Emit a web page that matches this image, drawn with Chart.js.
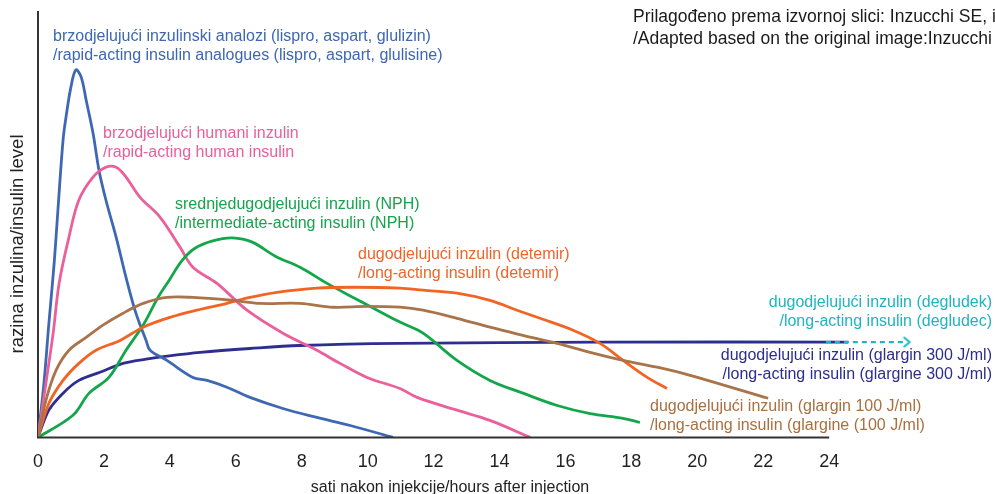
<!DOCTYPE html>
<html>
<head>
<meta charset="utf-8">
<script src="https://cdn.jsdelivr.net/npm/chart.js@4.4.1/dist/chart.umd.min.js"></script>
<style>
  html, body { margin: 0; padding: 0; background: #fff; }
  #wrap { width: 995px; height: 494px; position: relative; }
</style>
</head>
<body>
<div id="wrap"><canvas id="insulinChart"></canvas></div>
<script>
// x ticks (hours)
const hourTicks = [0, 2, 4, 6, 8, 10, 12, 14, 16, 18, 20, 22, 24];

// rapid-acting analogues
const analogHours = [0, 0.18, 0.33, 0.49, 0.61, 0.76, 0.85, 1.0, 1.15, 1.31, 1.46, 1.67, 1.85, 2.06, 2.37, 2.67, 2.97, 3.28, 3.40, 3.91, 4.70, 5.13, 5.73, 6.43, 7.43, 8.46, 9.47, 10.77];
const analogLevel = [0, 12.7, 26.8, 40.9, 54.1, 69.9, 75.3, 82.4, 86.4, 84.7, 79.3, 71.5, 62.8, 55.8, 47.1, 37.6, 29.2, 22.8, 20.5, 18.1, 14.1, 13.4, 11.8, 9.4, 6.8, 4.7, 2.8, 0];

// rapid-acting human insulin
const humanHours = [0, 0.24, 0.46, 0.64, 0.94, 1.24, 1.67, 2.06, 2.37, 2.67, 3.09, 3.70, 4.31, 4.70, 5.43, 6.34, 7.43, 8.46, 9.16, 9.98, 10.98, 11.50, 12.71, 13.71, 14.93];
const humanLevel = [0, 12.7, 24.5, 36.2, 47.1, 55.8, 61.2, 63.5, 63.5, 61.2, 56.5, 51.8, 44.7, 40.0, 36.2, 29.9, 24.5, 20.5, 17.4, 14.1, 11.5, 9.4, 6.4, 4.0, 0];

// NPH
const nphHours = [0, 1.06, 1.55, 2.15, 2.67, 3.19, 3.64, 4.0, 4.35, 4.75, 5.30, 5.90, 6.50, 7.20, 7.95, 8.77, 9.56, 10.29, 10.98, 11.68, 12.71, 13.71, 14.71, 15.75, 16.75, 17.75, 18.26];
const nphLevel = [0, 5.2, 10.4, 14.1, 20.5, 26.4, 32.9, 37.2, 41.4, 44.4, 46.2, 46.9, 45.9, 42.6, 40.0, 36.2, 32.9, 29.9, 27.1, 24.5, 18.1, 13.4, 10.4, 7.5, 5.6, 4.5, 3.5];

// detemir
const detemirHours = [0, 0.33, 0.76, 1.24, 1.76, 2.49, 3.19, 4.0, 4.82, 5.73, 6.43, 7.25, 8.46, 9.56, 10.98, 11.68, 12.71, 13.71, 14.53, 15.23, 16.23, 17.05, 17.75, 18.48, 19.08];
const detemirLevel = [0, 8.0, 13.4, 17.4, 20.5, 22.8, 25.9, 28.2, 29.9, 31.5, 32.9, 34.1, 35.1, 35.3, 35.1, 34.6, 33.9, 32.2, 29.9, 28.0, 25.2, 22.1, 18.1, 14.1, 11.5];

// glargine 100 J/ml
const g100Hours = [0, 0.24, 0.55, 0.94, 1.46, 1.97, 2.58, 3.19, 3.91, 4.70, 5.92, 6.74, 7.95, 8.95, 9.98, 10.98, 11.68, 12.71, 13.71, 14.71, 15.75, 16.75, 17.75, 18.78, 19.78, 22.15];
const g100Level = [0, 8.7, 15.8, 20.5, 23.5, 26.4, 29.2, 31.5, 32.9, 32.9, 32.2, 31.5, 31.5, 30.6, 30.8, 30.6, 29.9, 28.0, 25.9, 24.0, 22.1, 20.0, 18.1, 16.5, 14.6, 9.2];

// glargine 300 J/ml
const g300Hours = [0, 0.33, 0.76, 1.24, 1.88, 2.58, 3.28, 3.91, 4.92, 6.43, 7.95, 10.98, 17.05, 24.58];
const g300Level = [0, 6.4, 10.4, 13.4, 15.3, 17.4, 18.4, 19.1, 20.0, 20.9, 21.6, 22.1, 22.4, 22.4];

// degludec (dashed continuation)
const degludecHours = [23.9, 26.35];
const degludecLevel = [22.4, 22.4];

const FONT = '"Liberation Sans", Arial, sans-serif';

function toPoints(hours, levels) {
    return hours.map((h, i) => ({ x: h, y: levels[i] }));
}

// open arrow head for the dashed line
const arrowHead = document.createElement('canvas');
arrowHead.width = 14;
arrowHead.height = 14;
(function () {
    const c = arrowHead.getContext('2d');
    c.strokeStyle = '#1BB8C4';
    c.lineWidth = 2;
    c.beginPath();
    c.moveTo(4, 2);
    c.lineTo(10, 7);
    c.lineTo(4, 12);
    c.stroke();
})();

const labels = [
    { lines: ['brzodjelujući inzulinski analozi (lispro, aspart, glulizin)', '/rapid-acting insulin analogues (lispro, aspart, glulisine)'], x: 53, y: 37, color: '#3E67B1', align: 'left' },
    { lines: ['brzodjelujući humani inzulin', '/rapid-acting human insulin'], x: 103, y: 134, color: '#E8609B', align: 'left' },
    { lines: ['srednjedugodjelujući inzulin (NPH)', '/intermediate-acting insulin (NPH)'], x: 175, y: 205, color: '#16A34D', align: 'left' },
    { lines: ['dugodjelujući inzulin (detemir)', '/long-acting insulin (detemir)'], x: 358, y: 255, color: '#F06427', align: 'left' },
    { lines: ['dugodjelujući inzulin (degludek)', '/long-acting insulin (degludec)'], x: 992, y: 303, color: '#1FB4BF', align: 'right' },
    { lines: ['dugodjelujući inzulin (glargin 300 J/ml)', '/long-acting insulin (glargine 300 J/ml)'], x: 992, y: 356, color: '#2C2D8C', align: 'right' },
    { lines: ['dugodjelujući inzulin (glargin 100 J/ml)', '/long-acting insulin (glargine (100 J/ml)'], x: 650, y: 407, color: '#A8703F', align: 'left' }
];

const annotationPlugin = {
    id: 'annotations',
    afterDraw(chart) {
        const ctx = chart.ctx;
        const xs = chart.scales.x;
        const area = chart.chartArea;
        ctx.save();
        // x axis line from 0 to 24 h
        ctx.strokeStyle = '#333';
        ctx.lineWidth = 2;
        ctx.beginPath();
        ctx.moveTo(xs.getPixelForValue(hourTicks[0]) - 1, area.bottom);
        ctx.lineTo(xs.getPixelForValue(hourTicks[hourTicks.length - 1]), area.bottom);
        ctx.stroke();

        ctx.textBaseline = 'middle';
        ctx.font = '16px ' + FONT;
        labels.forEach(l => {
            ctx.fillStyle = l.color;
            ctx.textAlign = l.align;
            l.lines.forEach((t, i) => ctx.fillText(t, l.x, l.y + i * 19));
        });

        ctx.fillStyle = '#1a1a1a';
        ctx.textAlign = 'left';
        ctx.font = '17.5px ' + FONT;
        ctx.fillText('Prilagođeno prema izvornoj slici: Inzucchi SE, i sur.', 633, 17);
        ctx.fillText('/Adapted based on the original image:Inzucchi SE, et al.', 633, 39);

        // axis titles
        ctx.fillStyle = '#222';
        ctx.font = '16px ' + FONT;
        ctx.textAlign = 'center';
        ctx.fillText('sati nakon injekcije/hours after injection', 450, 488);
        ctx.translate(18, 244);
        ctx.rotate(-Math.PI / 2);
        ctx.font = '18.5px ' + FONT;
        ctx.fillText('razina inzulina/insulin level', 0, 0);
        ctx.restore();
    }
};

function lineSet(label, hours, levels, color) {
    return {
        label: label,
        data: toPoints(hours, levels),
        borderColor: color,
        borderWidth: 2.8,
        pointRadius: 0,
        tension: 0.35,
        fill: false
    };
}

const ctx = document.getElementById('insulinChart').getContext('2d');
new Chart(ctx, {
    type: 'line',
    data: {
        datasets: [
            lineSet('glargin 100', g100Hours, g100Level, '#A9744A'),
            lineSet('detemir', detemirHours, detemirLevel, '#F26424'),
            lineSet('NPH', nphHours, nphLevel, '#14A64A'),
            lineSet('humani', humanHours, humanLevel, '#EA609A'),
            lineSet('analozi', analogHours, analogLevel, '#3E68B3'),
            {
                label: 'degludek',
                data: toPoints(degludecHours, degludecLevel),
                borderColor: '#1BB8C4',
                borderWidth: 2.2,
                borderDash: [5, 4],
                pointRadius: [0, 7],
                pointStyle: arrowHead,
                tension: 0,
                fill: false
            },
            lineSet('glargin 300', g300Hours, g300Level, '#2E2E8F')
        ]
    },
    options: {
        responsive: true,
        maintainAspectRatio: false,
        animation: false,
        devicePixelRatio: 1,
        layout: { padding: { top: 12, left: 38, right: 34, bottom: 7 } },
        plugins: { legend: { display: false }, tooltip: { enabled: false } },
        scales: {
            x: {
                type: 'linear',
                min: 0,
                max: 28,
                grid: { display: false, drawTicks: false },
                border: { display: false },
                afterBuildTicks: (scale) => { scale.ticks = hourTicks.map(v => ({ value: v })); },
                ticks: { color: '#231F20', padding: 14, font: { size: 18, family: FONT }, maxRotation: 0 }
            },
            y: {
                min: 0,
                max: 100,
                grid: { display: false, drawTicks: false },
                border: { display: true, color: '#333', width: 2 },
                ticks: { display: false }
            }
        }
    },
    plugins: [annotationPlugin]
});
</script>
</body>
</html>
